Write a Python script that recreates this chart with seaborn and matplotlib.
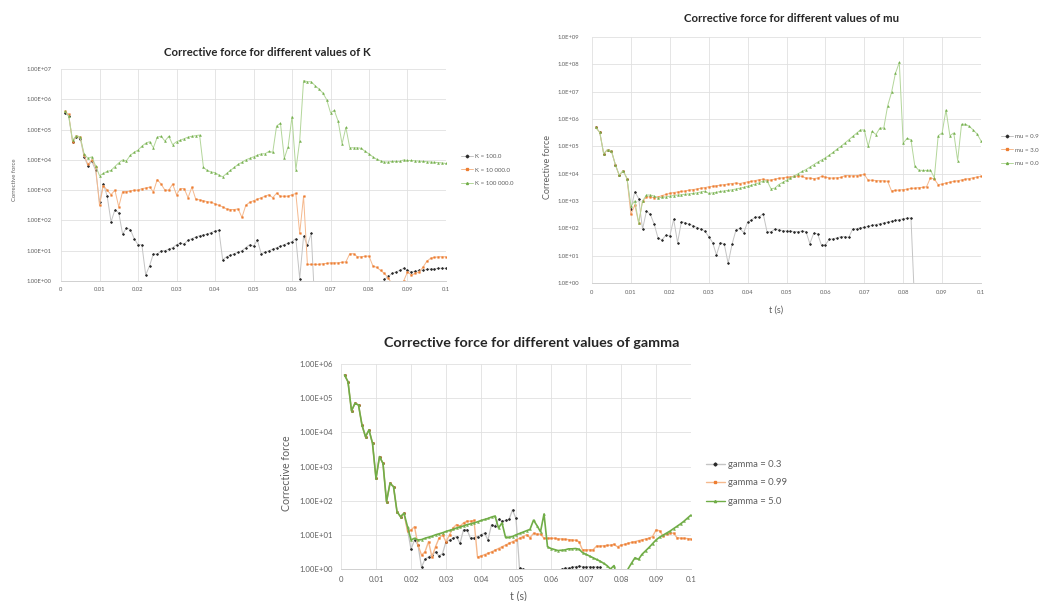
import numpy as np
import pandas as pd
import matplotlib
matplotlib.use("Agg")
import matplotlib.pyplot as plt
import seaborn as sns
from matplotlib.lines import Line2D
from matplotlib.ticker import NullLocator

# time steps (s), one sample per ms
t = np.arange(1, 101) / 1000.0
x_ticks = [0, 0.01, 0.02, 0.03, 0.04, 0.05, 0.06, 0.07, 0.08, 0.09, 0.1]
x_tick_labels = ["0", "0.01", "0.02", "0.03", "0.04", "0.05", "0.06", "0.07", "0.08", "0.09", "0.1"]

nan = np.nan
# log10 of corrective force, nan = below axis / not shown

# --- chart 1: K
k_labels = ["K = 100.0", "K = 10 000.0", "K = 100 000.0"]
k_100 = [5.55, 5.45, 4.6, 4.75, 4.7, 4.1, 3.8, 3.95, 3.65, 2.6,
         3.2, 2.8, 1.95, 2.35, 2.25, 1.55, 1.75, 1.7, 1.4, 1.2,
         1.2, 0.2, 0.5, 0.9, 0.88, 1.0, 1.0, 1.05, 1.1, 1.2,
         1.25, 1.22, 1.35, 1.4, 1.45, 1.5, 1.52, 1.55, 1.6, 1.65,
         1.68, 0.7, 0.8, 0.85, 0.9, 0.95, 1.0, 1.1, 1.2, 1.15,
         1.35, 0.9, 0.95, 1.0, 1.05, 1.1, 1.15, 1.2, 1.25, 1.3,
         1.4, 0.08, 1.48, 1.18, 1.57, -1, nan, nan, nan, nan,
         nan, nan, nan, nan, nan, nan, nan, nan, nan, nan,
         nan, nan, -1, 0.05, 0.15, 0.25, 0.3, 0.35, 0.42, 0.35,
         0.3, 0.32, 0.35, 0.36, 0.38, 0.4, 0.4, 0.42, 0.42, 0.42]
k_10000 = [5.6, 5.5, 4.6, 4.8, 4.75, 4.15, 3.85, 4.0, 3.75, 2.5,
           3.15, 3.0, 2.85, 3.0, 2.45, 2.95, 2.95, 2.97, 3.0, 3.0,
           3.05, 3.07, 3.1, 2.95, 3.35, 3.2, 3.0, 3.0, 3.2, 2.85,
           3.05, 3.05, 2.75, 3.1, 2.7, 2.68, 2.65, 2.62, 2.6, 2.55,
           2.5, 2.45, 2.38, 2.36, 2.36, 2.38, 2.1, 2.5, 2.6, 2.65,
           2.7, 2.75, 2.8, 2.85, 2.75, 2.9, 2.8, 2.8, 2.8, 2.85,
           2.89, 1.57, 2.8, 0.55, 0.55, 0.55, 0.55, 0.57, 0.58, 0.6,
           0.6, 0.6, 0.62, 0.63, 0.9, 0.9, 0.8, 0.8, 0.82, 0.82,
           0.5, 0.45, 0.35, 0.25, 0.1, -0.1, -0.2, -0.3, 0.0, 0.3,
           0.2, 0.25, 0.3, 0.45, 0.65, 0.75, 0.78, 0.8, 0.8, 0.8]
k_100000 = [5.6, 5.45, 4.65, 4.8, 4.75, 4.2, 4.05, 4.1, 3.8, 3.48,
            3.55, 3.62, 3.65, 3.78, 3.9, 4.0, 3.97, 4.15, 4.25, 4.32,
            4.45, 4.55, 4.6, 4.4, 4.75, 4.78, 4.62, 4.78, 4.5, 4.6,
            4.65, 4.7, 4.75, 4.78, 4.8, 4.82, 3.75, 3.65, 3.6, 3.58,
            3.5, 3.44, 3.55, 3.65, 3.75, 3.85, 3.92, 4.0, 4.05, 4.1,
            4.15, 4.2, 4.2, 4.28, 4.25, 5.12, 5.21, 4.05, 4.44, 5.43,
            3.67, 4.63, 6.62, 6.58, 6.58, 6.45, 6.34, 6.21, 5.99, 5.56,
            5.63, 5.27, 4.53, 5.07, 4.4, 4.4, 4.4, 4.38, 4.28, 4.2,
            4.1, 4.02, 3.97, 3.93, 3.93, 3.95, 3.95, 3.95, 4.0, 3.98,
            3.98, 3.97, 3.96, 3.95, 3.94, 3.93, 3.92, 3.91, 3.9, 3.88]

# --- chart 2: mu
mu_labels = ["mu = 0.9", "mu = 3.0", "mu = 0.0"]
mu_09 = [5.69, 5.51, 4.73, 4.88, 4.83, 4.33, 3.94, 4.11, 3.82, 2.7,
         3.34, 3.09, 1.97, 2.63, 2.51, 2.15, 1.63, 1.58, 1.75, 1.72,
         2.33, 1.48, 2.25, 2.2, 2.15, 2.1, 2.03, 1.98, 1.9, 1.7,
         1.48, 1.03, 1.48, 1.42, 0.72, 1.42, 1.93, 2.0, 1.84, 2.23,
         2.31, 2.41, 2.42, 2.54, 1.87, 1.87, 1.97, 1.94, 1.92, 1.9,
         1.9, 1.88, 1.88, 1.9, 1.88, 1.44, 1.82, 1.8, 1.38, 1.4,
         1.6, 1.62, 1.65, 1.7, 1.7, 1.67, 1.97, 1.99, 2.02, 2.04,
         2.07, 2.11, 2.14, 2.17, 2.2, 2.23, 2.26, 2.29, 2.32, 2.35,
         2.37, 2.38, -1, nan, nan, nan, nan, nan, nan, nan,
         nan, nan, nan, nan, nan, nan, nan, nan, nan, nan]
mu_30 = [5.69, 5.51, 4.73, 4.88, 4.83, 4.33, 3.94, 4.11, 3.82, 2.51,
         2.85, 2.2, 3.0, 3.15, 3.15, 3.12, 3.15, 3.2, 3.24, 3.28,
         3.31, 3.33, 3.35, 3.37, 3.4, 3.42, 3.44, 3.47, 3.49, 3.52,
         3.54, 3.56, 3.58, 3.6, 3.62, 3.64, 3.66, 3.64, 3.67, 3.7,
         3.72, 3.75, 3.78, 3.8, 3.76, 3.77, 3.8, 3.83, 3.85, 3.87,
         3.88, 3.9, 3.92, 3.9, 3.84, 3.84, 3.82, 3.84, 3.9, 3.88,
         3.84, 3.84, 3.85, 3.86, 3.93, 3.93, 3.92, 3.93, 3.95, 3.97,
         3.76, 3.76, 3.75, 3.74, 3.74, 3.72, 3.37, 3.39, 3.4, 3.42,
         3.43, 3.46, 3.47, 3.49, 3.5, 3.52, 3.85, 3.8, 3.6, 3.62,
         3.66, 3.69, 3.72, 3.74, 3.77, 3.8, 3.82, 3.85, 3.88, 3.9]
mu_00 = [5.69, 5.51, 4.73, 4.88, 4.83, 4.33, 3.94, 4.11, 3.82, 2.82,
         3.0, 2.2, 3.0, 3.22, 3.22, 3.18, 3.12, 3.14, 3.15, 3.18,
         3.2, 3.22, 3.23, 3.25, 3.26, 3.28, 3.3, 3.33, 3.36, 3.28,
         3.3, 3.32, 3.35, 3.37, 3.39, 3.41, 3.44, 3.47, 3.5, 3.54,
         3.58, 3.62, 3.67, 3.73, 3.74, 3.45, 3.47, 3.6, 3.68, 3.76,
         3.84, 3.92, 4.0, 4.08, 4.15, 4.24, 4.33, 4.42, 4.5, 4.58,
         4.68, 4.78, 4.9, 5.0, 5.12, 5.24, 5.36, 5.48, 5.6, 5.6,
         5.0, 5.55, 5.43, 5.67, 5.67, 6.48, 6.97, 7.67, 8.07, 5.12,
         5.29, 5.24, 4.27, 4.13, 4.12, 4.12, 4.13, 3.85, 5.39, 5.49,
         6.33, 5.39, 5.49, 4.48, 5.81, 5.81, 5.73, 5.6, 5.45, 5.2]

# --- chart 3: gamma
gamma_labels = ["gamma = 0.3", "gamma = 0.99", "gamma = 5.0"]
gamma_03 = [5.68, 5.48, 4.63, 4.85, 4.8, 4.21, 3.87, 4.07, 3.68, 2.65,
            3.29, 3.09, 1.97, 2.51, 2.41, 1.68, 1.53, 1.63, 1.15, 0.58,
            0.85, 0.7, 0.05, 0.29, 0.35, 0.42, 0.5, 0.38, 0.45, 0.8,
            0.85, 0.9, 0.95, 0.75, 1.15, 1.15, 0.9, 0.92, 0.95, 1.0,
            1.05, 0.85, 1.3, 1.25, 1.45, 1.4, 1.42, 1.45, 1.73, 1.48,
            0.02, 0.0, -1, nan, nan, nan, nan, nan, nan, nan,
            nan, nan, 0.0, 0.02, 0.03, 0.05, 0.07, 0.08, 0.07, 0.07,
            0.07, 0.06, 0.06, 0.05, -1, nan, nan, nan, nan, nan,
            nan, nan, nan, nan, nan, nan, nan, nan, nan, nan,
            nan, nan, nan, nan, nan, nan, nan, nan, nan, nan]
gamma_099 = [5.68, 5.48, 4.63, 4.85, 4.8, 4.21, 3.87, 4.07, 3.68, 2.65,
             3.29, 3.09, 1.97, 2.51, 2.41, 1.68, 1.53, 1.63, 1.1, 1.14,
             1.24, 0.7, 0.41, 0.5, 0.8, 0.35, 0.65, 0.9, 1.0, 0.8,
             1.0, 1.2, 1.3, 1.25, 1.35, 1.4, 1.4, 1.42, 0.35, 0.38,
             0.42, 0.46, 0.5, 0.55, 0.6, 0.65, 0.7, 0.75, 0.8, 0.85,
             0.9, 0.95, 1.0, 0.92, 1.04, 1.02, 1.02, 0.9, 0.9, 0.9,
             0.9, 0.88, 0.88, 0.87, 0.86, 0.85, 0.84, 0.8, 0.56, 0.56,
             0.56, 0.56, 0.67, 0.67, 0.68, 0.69, 0.7, 0.72, 0.65, 0.7,
             0.72, 0.75, 0.78, 0.8, 0.83, 0.85, 0.88, 0.9, 0.95, 1.14,
             1.12, 0.97, 1.02, 1.05, 1.05, 0.92, 0.9, 0.9, 0.89, 0.88]
gamma_50 = [5.68, 5.48, 4.63, 4.85, 4.8, 4.21, 3.87, 4.07, 3.68, 2.65,
            3.29, 3.09, 1.97, 2.51, 2.41, 1.68, 1.53, 1.63, 1.24, 0.85,
            0.9, 0.85, 0.86, 0.9, 0.93, 0.96, 1.0, 1.03, 1.06, 1.1,
            1.13, 1.16, 1.2, 1.23, 1.26, 1.3, 1.32, 1.35, 1.38, 1.42,
            1.45, 1.48, 1.52, 1.55, 1.2, 1.35, 0.93, 0.93, 0.95, 1.0,
            1.04, 1.08, 1.12, 1.16, 1.43, 1.27, 1.09, 1.61, 0.65, 0.6,
            0.57, 0.54, 0.55, 0.56, 0.59, 0.59, 0.6, 0.58, 0.48, 0.43,
            0.38, 0.33, 0.28, 0.23, 0.17, 0.1, 0.0, 0.1, -0.3, -0.5,
            -0.3, 0.0, 0.17, 0.33, 0.28, 0.43, 0.53, 0.63, 0.74, 0.85,
            0.93, 0.99, 1.05, 1.11, 1.18, 1.25, 1.32, 1.4, 1.49, 1.58]

BLACK_LINE, BLACK_MK = "#c4c4c4", "#2a2a2a"
ORANGE_LINE, ORANGE_MK = "#f5b98e", "#ed7d31"
GREEN_LINE, GREEN_MK = "#b3d69a", "#70ad47"
TICK_COLOR = "#5f5f5f"
FONT = "Lato"

sns.set_style("white")
plt.rcParams["font.family"] = [FONT, "DejaVu Sans"]

fig = plt.figure(figsize=(10.6, 6.01), dpi=100)
W, H = 1060.0, 601.0


def px_axes(left, top, right, bottom):
    return fig.add_axes([left / W, 1 - bottom / H, (right - left) / W, (bottom - top) / H])


def draw_series(ax, logvals, line_color, mk, mk_color, lw, ms):
    s = pd.Series(logvals, dtype=float)
    df = pd.DataFrame({"t": t, "force": 10 ** s, "seg": s.isna().cumsum()}).dropna()
    for _, part in df.groupby("seg"):
        sns.lineplot(data=part, x="t", y="force", ax=ax, color=line_color, lw=lw,
                     marker=mk, markersize=ms, markerfacecolor=mk_color,
                     markeredgecolor=mk_color, markeredgewidth=0.3,
                     estimator=None, sort=False, legend=False)


def style_axes(ax, top_exp, fmt, fs, ypad, xpad):
    ax.set_yscale("log")
    ax.set_xlim(0, 0.1)
    ax.set_ylim(1, 10 ** top_exp)
    ax.set_yticks([10 ** e for e in range(top_exp + 1)])
    ax.set_yticklabels([fmt.format(e) for e in range(top_exp + 1)])
    ax.yaxis.set_minor_locator(NullLocator())
    ax.set_xticks(x_ticks)
    ax.set_xticklabels(x_tick_labels)
    ax.tick_params(axis="both", length=0, labelsize=fs, labelcolor=TICK_COLOR)
    ax.tick_params(axis="y", pad=ypad)
    ax.tick_params(axis="x", pad=xpad)
    ax.grid(True, color="#e0e0e0", lw=0.6)
    ax.set_axisbelow(True)
    for side in ["top", "right", "left"]:
        ax.spines[side].set_visible(False)
    ax.spines["bottom"].set_color("#d0d0d0")
    ax.spines["bottom"].set_linewidth(0.7)
    ax.set_xlabel("")
    ax.set_ylabel("")


def add_legend(labels, styles, x, y, fs, lw, ms, spacing):
    handles = [Line2D([], [], color=lc, lw=lw, marker=m, markersize=ms,
                      markerfacecolor=mc, markeredgecolor=mc)
               for (lc, m, mc) in styles]
    fig.legend(handles, labels, loc="upper left", bbox_to_anchor=(x / W, 1 - y / H),
               frameon=False, fontsize=fs, handlelength=2.0, handletextpad=0.3,
               labelspacing=spacing, labelcolor=TICK_COLOR, borderaxespad=0, borderpad=0)


styles_light = [(BLACK_LINE, "D", BLACK_MK), (ORANGE_LINE, "s", ORANGE_MK), (GREEN_LINE, "^", GREEN_MK)]

# ---------------- chart K ----------------
ax1 = px_axes(61, 69, 446, 281)
ax1.set_yscale("log")
draw_series(ax1, k_100, BLACK_LINE, "D", BLACK_MK, 0.7, 1.3)
draw_series(ax1, k_10000, ORANGE_LINE, "s", ORANGE_MK, 0.7, 1.2)
draw_series(ax1, k_100000, GREEN_LINE, "^", GREEN_MK, 0.7, 1.4)
style_axes(ax1, 7, "1.00E+{:02d}", 4.2, 7, 4)
fig.text(267 / W, 1 - 53 / H, "Corrective force for different values of K",
         ha="center", va="center", fontsize=8.2, fontweight="bold", color="#262626")
fig.text(15 / W, 1 - 180 / H, "Corrective force", rotation=90, ha="center", va="center",
         fontsize=4.3, color=TICK_COLOR)
add_legend(k_labels, styles_light, 461, 154, 4.4, 0.7, 1.4, 1.3)

# ---------------- chart mu ----------------
ax2 = px_axes(592, 37, 981, 283)
ax2.set_yscale("log")
draw_series(ax2, mu_09, BLACK_LINE, "D", BLACK_MK, 0.7, 1.3)
draw_series(ax2, mu_30, ORANGE_LINE, "s", ORANGE_MK, 0.7, 1.2)
draw_series(ax2, mu_00, GREEN_LINE, "^", GREEN_MK, 0.7, 1.4)
style_axes(ax2, 9, "1.0E+{:02d}", 4.2, 9, 5)
fig.text(792 / W, 1 - 19 / H, "Corrective force for different values of mu",
         ha="center", va="center", fontsize=8.2, fontweight="bold", color="#262626")
fig.text(548 / W, 1 - 167 / H, "Corrective force", rotation=90, ha="center", va="center",
         fontsize=6.5, color=TICK_COLOR)
fig.text(776 / W, 1 - 310 / H, "t (s)", ha="center", va="center", fontsize=6.5, color=TICK_COLOR)
add_legend(mu_labels, styles_light, 1001, 134, 4.4, 0.7, 1.4, 1.3)

# ---------------- chart gamma ----------------
ax3 = px_axes(341, 364, 691, 569)
ax3.set_yscale("log")
draw_series(ax3, gamma_03, BLACK_LINE, "D", BLACK_MK, 0.9, 1.4)
draw_series(ax3, gamma_099, ORANGE_LINE, "s", ORANGE_MK, 1.0, 1.3)
draw_series(ax3, gamma_50, "#70ad47", "^", GREEN_MK, 1.2, 1.4)
style_axes(ax3, 6, "1.00E+{:02d}", 5.6, 6, 5)
fig.text(532 / W, 1 - 343 / H, "Corrective force for different values of gamma",
         ha="center", va="center", fontsize=10.3, fontweight="bold", color="#262626")
fig.text(286 / W, 1 - 473 / H, "Corrective force", rotation=90, ha="center", va="center",
         fontsize=7.6, color=TICK_COLOR)
fig.text(518 / W, 1 - 596 / H, "t (s)", ha="center", va="center", fontsize=7.6, color=TICK_COLOR)
add_legend(gamma_labels,
           [(BLACK_LINE, "D", BLACK_MK), (ORANGE_LINE, "s", ORANGE_MK), ("#70ad47", "^", GREEN_MK)],
           706, 460, 6.8, 1.0, 1.6, 1.0)

fig.savefig("out.png", dpi=100, facecolor="white")
